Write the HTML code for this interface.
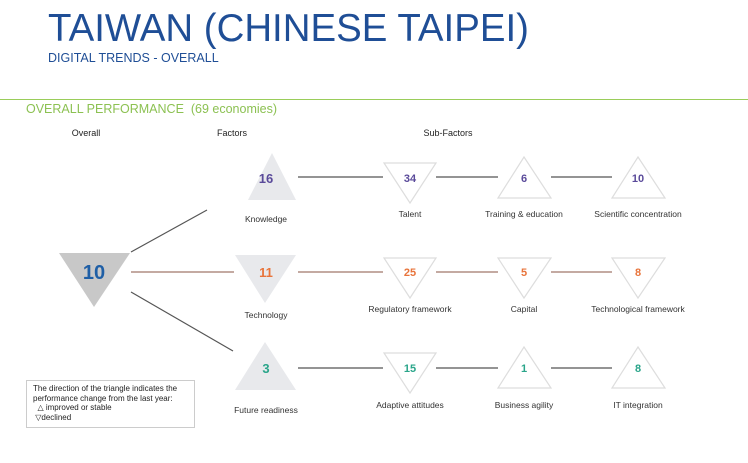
<!DOCTYPE html>
<html><head><meta charset="utf-8"><style>
body{margin:0;width:748px;height:463px;background:#fff;overflow:hidden;position:relative;font-family:"Liberation Sans",sans-serif}
.a{position:absolute;white-space:nowrap}
</style></head><body>
<div class="a" style="left:48px;top:6px;font-size:39px;color:#1f4e96;line-height:45px;transform:scaleX(0.985);transform-origin:0 0">TAIWAN (CHINESE TAIPEI)</div>
<div class="a" style="left:48px;top:51px;font-size:12.5px;color:#1f4e96">DIGITAL TRENDS - OVERALL</div>
<div class="a" style="left:0;top:99px;width:748px;height:1px;background:#9acd5a"></div>
<div class="a" style="left:26px;top:102px;font-size:12.5px;color:#8cc152">OVERALL PERFORMANCE&nbsp; (69 economies)</div>
<div style="position:absolute;left:26px;top:380px;width:169px;height:48px;border:1px solid #ccc;font-size:8px;line-height:9.5px;padding:3px 0 0 6px;box-sizing:border-box;color:#222">The direction of the triangle indicates the<br>performance change from the last year:<br>&nbsp;&nbsp;△ improved or stable<br>&nbsp;▽declined</div>
<svg width="748" height="463" style="position:absolute;left:0;top:0" font-family="Liberation Sans, sans-serif">
<g font-size="9" fill="#222" text-anchor="middle">
<text x="86" y="136">Overall</text><text x="232" y="136">Factors</text><text x="448" y="136">Sub-Factors</text>
</g>
<g stroke-width="1.2">
<line x1="131" y1="252" x2="207" y2="210" stroke="#555"/>
<line x1="131" y1="272" x2="234" y2="272" stroke="#a0786a"/>
<line x1="131" y1="292" x2="233" y2="351" stroke="#555"/>
<line x1="298" y1="177" x2="383" y2="177" stroke="#555"/>
<line x1="436" y1="177" x2="498" y2="177" stroke="#555"/>
<line x1="551" y1="177" x2="612" y2="177" stroke="#555"/>
<line x1="298" y1="272" x2="383" y2="272" stroke="#a0786a"/>
<line x1="436" y1="272" x2="498" y2="272" stroke="#a0786a"/>
<line x1="551" y1="272" x2="612" y2="272" stroke="#a0786a"/>
<line x1="298" y1="368" x2="383" y2="368" stroke="#555"/>
<line x1="436" y1="368" x2="498" y2="368" stroke="#555"/>
<line x1="551" y1="368" x2="612" y2="368" stroke="#555"/>
</g>
<polygon points="59,253 130,253 94,307" fill="#c8c8c8"/>
<polygon points="272,153 296,200 248,200" fill="#e8e9ec"/>
<polygon points="235,255 296,255 265,303" fill="#e8e9ec"/>
<polygon points="265,342 296,390 235,390" fill="#e8e9ec"/>
<g fill="none" stroke="#ddd" stroke-width="1.2">
<polygon points="384,163 436,163 410,203"/>
<polygon points="524,157 551,198 498,198"/>
<polygon points="638,157 665,198 612,198"/>
<polygon points="384,258 436,258 410,298"/>
<polygon points="498,258 551,258 524,298"/>
<polygon points="612,258 665,258 638,298"/>
<polygon points="384,353 436,353 410,393"/>
<polygon points="524,347 551,388 498,388"/>
<polygon points="638,347 665,388 612,388"/>
</g>
<g font-weight="bold" text-anchor="middle">
<text x="94" y="279" font-size="20" fill="#1f5fa6">10</text>
<text x="266" y="183" font-size="13" fill="#5a4a9a">16</text>
<text x="266" y="277" font-size="13" fill="#e8743b">11</text>
<text x="266" y="373" font-size="13" fill="#2aa58a">3</text>
<g font-size="11">
<text x="410" y="182" fill="#5a4a9a">34</text><text x="524" y="182" fill="#5a4a9a">6</text><text x="638" y="182" fill="#5a4a9a">10</text>
<text x="410" y="276" fill="#e8743b">25</text><text x="524" y="276" fill="#e8743b">5</text><text x="638" y="276" fill="#e8743b">8</text>
<text x="410" y="372" fill="#2aa58a">15</text><text x="524" y="372" fill="#2aa58a">1</text><text x="638" y="372" fill="#2aa58a">8</text>
</g></g>
<g font-size="8.5" fill="#333" text-anchor="middle">
<text x="266" y="222">Knowledge</text><text x="266" y="318">Technology</text><text x="266" y="413">Future readiness</text>
<text x="410" y="217">Talent</text><text x="524" y="217">Training &amp; education</text><text x="638" y="217">Scientific concentration</text>
<text x="410" y="312">Regulatory framework</text><text x="524" y="312">Capital</text><text x="638" y="312">Technological framework</text>
<text x="410" y="408">Adaptive attitudes</text><text x="524" y="408">Business agility</text><text x="638" y="408">IT integration</text>
</g>
</svg>
</body></html>
